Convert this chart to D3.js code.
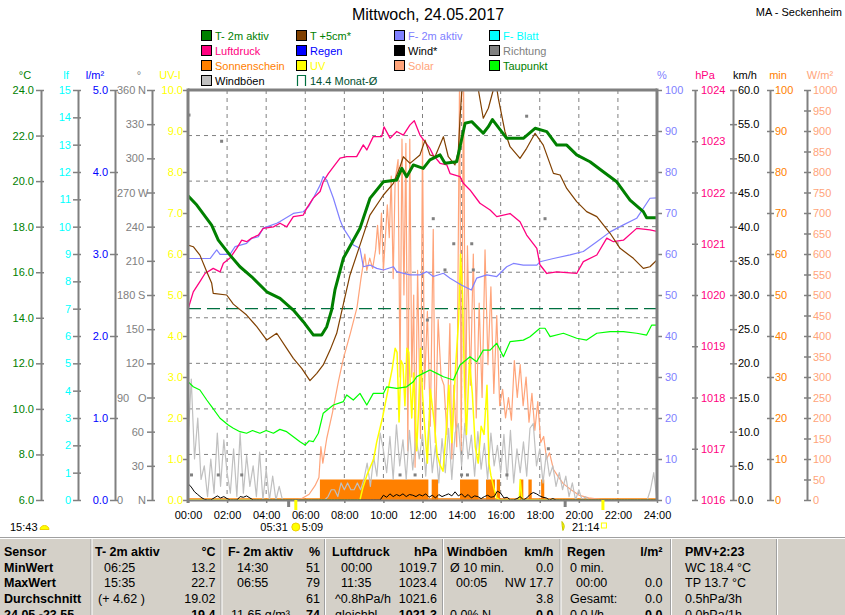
<!DOCTYPE html>
<html>
<head>
<meta charset="utf-8">
<script src="https://cdn.jsdelivr.net/npm/d3@7"></script>
<style>
body { margin: 0; background: #fff; }
svg { display: block; }
</style>
</head>
<body>
<script>
// ---- data (hours, value) ----
var t2m = [[0,19.36],[0.45,18.95],[1.21,18.07],[1.55,17.41],[2.15,16.75],[2.66,16.24],[3.26,15.8],[4.03,15.14],
  [4.71,14.85],[5.39,14.34],[5.9,13.83],[6.42,13.24],[6.84,13.24],[7.1,13.61],[7.35,14.34],[7.52,15.22],[7.95,16.61],
  [8.8,17.93],[9.31,19.24],[10.0,19.97],[10.68,20.05],[10.94,20.56],[11.19,20.19],[11.53,20.71],[12.04,20.56],
  [12.38,20.93],[12.9,21.15],[13.15,20.78],[13.75,20.85],[13.92,21.51],[14.18,22.54],[14.52,22.61],[15.11,22.1],
  [15.37,22.39],[15.58,22.7],[16.31,21.88],[17.16,21.88],[17.76,22.32],[18.36,22.17],[18.87,21.58],[19.38,21.58],
  [19.89,21.15],[20.57,20.85],[21.25,20.41],[21.94,19.97],[22.62,19.17],[23.3,18.66],[23.47,18.39],[24,18.39]];

var t5cm = [[0,17.19],[0.27,17.12],[0.61,16.75],[0.96,16.02],[1.21,15.53],[1.29,15.07],[1.98,15.0],[2.32,14.6],
  [3.0,14.12],[3.52,13.61],[4.03,13.02],[4.54,13.32],[5.05,12.66],[5.39,12.22],[5.82,11.78],[6.24,11.24],
  [6.59,11.56],[6.92,11.93],[7.27,12.58],[7.61,13.32],[7.95,14.6],[8.29,15.88],[8.8,17.19],[9.31,18.51],
  [10.0,19.39],[10.51,19.9],[10.85,20.63],[11.02,21.07],[11.36,20.78],[11.87,21.15],[12.13,21.8],[12.38,21.15],
  [12.64,21.07],[13.07,21.95],[13.32,21.07],[13.66,20.71],[13.83,21.29],[13.92,22.76],[14.01,23.92],[14.33,24.6],
  [14.86,24.0],[15.11,22.76],[15.37,23.2],[15.62,24.0],[15.76,24.3],[15.88,23.63],[16.22,22.17],[16.48,21.51],
  [16.99,21.0],[17.33,21.44],[17.76,22.1],[18.18,21.58],[18.7,20.34],[19.04,20.27],[19.38,19.68],[19.89,19.1],
  [20.4,18.66],[20.92,18.44],[21.6,17.71],[22.11,17.05],[22.79,16.61],[23.3,16.17],[23.64,16.24],[24,16.54]];

var dewPoint = [[0,11.19],[0.27,10.97],[0.61,10.83],[0.96,10.39],[1.21,10.1],[1.64,9.59],[2.06,9.29],[2.32,9.15],
  [2.66,9.0],[3.0,8.93],[3.3,9.05],[3.68,8.93],[4.0,9.05],[4.37,8.93],[4.7,9.1],[5.05,9.0],[5.39,8.78],[5.73,8.56],
  [5.99,8.41],[6.2,8.6],[6.41,8.56],[6.67,8.93],[6.92,9.81],[7.44,10.17],[7.95,10.32],[8.12,10.61],[8.46,10.39],
  [8.8,10.68],[9.15,10.17],[9.48,10.68],[10.0,10.68],[10.17,10.97],[10.68,10.9],[11.19,10.97],[11.53,11.19],
  [11.7,11.41],[12.04,11.56],[12.38,11.71],[12.73,11.56],[13.07,11.41],[13.58,11.27],[13.92,11.93],[14.43,12.29],
  [14.77,12.07],[15.11,12.58],[15.46,12.58],[15.8,12.88],[16.14,12.29],[16.48,12.95],[17.16,13.02],[17.5,13.17],
  [18.01,13.54],[18.27,13.54],[18.53,13.17],[19.21,13.32],[19.89,13.1],[20.4,13.02],[20.92,13.32],[21.6,13.39],
  [22.28,13.39],[22.96,13.32],[23.47,13.24],[23.73,13.68],[24,13.68]];

var humidity = [[0,58.9],[1.13,58.9],[1.47,61.0],[1.64,59.9],[2.15,59.9],[2.41,61.8],[3.0,62.6],[3.26,63.8],
  [3.6,64.2],[3.85,66.3],[4.54,67.5],[4.71,67.9],[5.39,69.9],[5.9,70.3],[6.16,71.5],[6.41,73.6],[6.76,76.8],
  [6.92,78.9],[7.1,78.0],[7.44,73.6],[7.78,68.3],[7.95,66.3],[8.29,63.8],[8.46,62.2],[8.8,61.4],[8.97,56.9],
  [9.31,57.3],[9.66,56.5],[10.0,56.1],[10.51,56.9],[10.68,55.7],[11.36,54.9],[11.87,54.9],[12.22,55.7],
  [12.55,54.5],[13.07,55.3],[13.41,54.1],[14.01,52.4],[14.5,51.2],[14.77,54.1],[15.29,54.9],[15.8,54.5],
  [16.31,56.9],[16.65,57.7],[17.16,57.3],[17.85,57.3],[18.01,58.1],[18.7,58.9],[19.55,59.8],[20.23,60.6],
  [20.92,63.0],[21.6,65.4],[22.28,67.1],[22.96,68.7],[23.64,73.6],[24,73.7]];

var pressure = [[0,1019.72],[0.27,1020.06],[0.61,1020.26],[0.87,1020.42],[1.29,1020.52],[1.64,1020.45],
  [1.81,1020.62],[2.15,1020.72],[2.49,1020.91],[2.75,1021.07],[3.0,1021.04],[3.26,1021.11],[3.6,1021.17],
  [3.85,1021.3],[4.37,1021.33],[4.71,1021.4],[5.05,1021.33],[5.39,1021.53],[5.9,1021.56],[6.07,1021.69],
  [6.41,1021.89],[6.76,1022.02],[6.92,1022.21],[7.18,1022.37],[7.44,1022.5],[7.78,1022.67],[8.12,1022.7],
  [8.63,1022.7],[8.97,1022.93],[9.15,1022.83],[9.48,1023.09],[9.91,1023.09],[10.03,1023.28],[10.34,1023.06],
  [10.68,1023.19],[11.02,1023.12],[11.36,1023.32],[11.58,1023.4],[11.87,1023.12],[12.38,1022.86],[12.55,1022.73],
  [12.9,1022.57],[13.24,1022.54],[13.41,1022.37],[13.92,1022.31],[14.09,1022.18],[14.43,1022.05],[14.94,1021.79],
  [15.46,1021.66],[15.8,1021.53],[16.48,1021.59],[16.99,1021.43],[17.33,1021.17],[17.85,1020.91],[18.01,1020.59],
  [18.36,1020.42],[18.87,1020.45],[19.89,1020.42],[20.23,1020.65],[20.92,1020.78],[21.43,1021.11],[21.77,1021.04],
  [22.28,1021.07],[22.96,1021.3],[23.64,1021.27],[24,1021.24]];

var solar = [[0,0],[5.5,0],[5.8,3],[6.2,14],[6.5,35],[6.7,55],[6.8,130],[6.9,90],[7.1,150],[7.4,215],[7.7,290],
  [7.95,345],[8.3,405],[8.65,470],[8.85,540],[9.05,600],[9.15,560],[9.3,590],[9.45,565],[9.6,610],[9.7,670],
  [9.8,600],[9.9,700],[10.0,560],[10.1,640],[10.2,720],[10.3,640],[10.4,790],[10.5,540],[10.6,780],[10.75,830],
  [10.85,300],[10.95,880],[11.05,500],[11.15,870],[11.25,120],[11.35,880],[11.45,300],[11.55,500],[11.62,80],
  [11.75,560],[11.9,150],[12.0,880],[12.1,270],[12.25,460],[12.4,180],[12.55,660],[12.65,140],[12.8,440],
  [12.95,300],[13.1,280],[13.25,160],[13.4,430],[13.5,100],[13.6,280],[13.75,130],[13.9,1050],[13.98,120],
  [14.1,1050],[14.2,180],[14.3,620],[14.45,280],[14.6,600],[14.75,200],[14.9,480],[15.05,250],[15.2,610],
  [15.35,330],[15.5,520],[15.65,260],[15.8,450],[15.95,230],[16.1,270],[16.25,200],[16.4,250],[16.55,195],
  [16.7,340],[16.85,250],[17.0,330],[17.15,230],[17.3,300],[17.45,190],[17.6,260],[17.75,170],[17.9,240],
  [18.05,140],[18.2,155],[18.35,100],[18.5,115],[18.7,75],[18.9,60],[19.2,40],[19.6,25],[20.0,12],[20.5,5],
  [21.0,2],[21.25,0],[24,0]];

var uvIndex = [[0,0],[8.8,0],[8.95,0.3],[9.15,0.6],[9.5,1.0],[9.65,1.4],[9.95,2.0],[10.2,2.6],[10.45,3.2],
  [10.6,3.7],[10.7,3.6],[10.8,1.9],[10.9,3.4],[11.0,3.3],[11.1,2.3],[11.2,3.7],[11.3,3.6],[11.45,2.0],[11.55,3.1],
  [11.7,1.2],[11.8,2.2],[11.9,3.7],[12.0,2.6],[12.15,1.5],[12.25,0.9],[12.4,2.7],[12.5,2.3],[12.6,1.9],[12.75,1.1],
  [12.9,0.85],[13.05,0.7],[13.2,1.6],[13.35,2.8],[13.5,1.4],[13.7,3.3],[13.85,4.4],[13.95,6.0],[14.05,5.0],
  [14.15,2.8],[14.25,1.6],[14.4,3.4],[14.55,2.6],[14.7,1.3],[14.85,0.9],[15.0,1.8],[15.15,1.6],[15.3,2.8],
  [15.4,0.9],[15.5,0.6],[15.65,0.3],[15.8,0.05],[15.95,0],[16.95,0],[17.0,0.5],[17.1,0],[24,0]];

// gusts and wind, one value every 10 minutes from 00:00 to 24:00 (km/h)
var gust10min = [
  8.5,17.7,6,12,3,5,  0.5,6,1,9.8,2,8.8,  4,1,7.5,0.5,9.8,1,  6.5,2,5,0.5,7,0,  4.5,0,3.5,0,2,0,
  0,0,0,0,0,0,  0,0,0,0,0,0,  0,0.5,1.5,1.5,0.5,2.5,  1.5,2.5,1.5,1.5,2.5,1.5,  3,5.4,2,6.3,3.5,9.8,
  7.3,4,9.3,3,11,5,  8.8,3,10.2,4.4,9.3,6,  9.6,3.5,11.5,4,8,2.5,  9,4,10.5,3,9.8,11.2,  5,11.2,6,9.5,3.5,10,
  4.5,8.3,3,9.8,5,8,  4,9.6,3,10.2,2.5,7.5,  4,8.5,3.5,10.5,11.2,5,  7.5,2.5,6.8,3.5,5,2,  4,1.5,3.5,0.5,2.5,0,
  1.5,0,0.5,0,0,0,  0,0,0,0,0,0,  0,0,0,0,0,0,  0,0,0,0,1.5,4,  0];
var wind10min = [
  2.4,1.9,1.2,0.8,0.4,0.1,  0,0,0.3,0.6,0.3,0.5,  0.2,0,0,0,0.5,0.4,  0.6,0.3,0,0,0,0,  0,0,0,0,0,0,
  0,0,0,0,0,0,  0,0,0,0,0,0,  0,0,0,0,0,0,  0,0,0,0,0,0,  0,0,0,0,0,0,
  0.7,0.4,0.9,0.5,0.8,0.6,  0.9,0.5,0.8,0.7,0.5,0.8,  0.6,0.9,0.4,0.7,0.3,0.8,  0.5,0.7,0.9,0.6,1.2,0.6,  0.9,0.4,0.8,0.3,0.6,0.5,
  0.2,0.5,0.7,0.4,0.5,1.3,  1.0,0.3,0.4,0,0,0.2,  0.5,0,0.3,0.8,1.1,0.9,  0.6,0.4,0.3,0,0.2,0,  0,0,0,0,0,0,
  0,0,0,0,0,0,  0,0,0,0,0,0,  0,0,0,0,0,0,  0,0,0,0,0,0,  0];

// wind direction samples (hour, degrees)
var direction = [[0.05,338],[1.72,315],[0.18,22],[1.55,22],[2.75,22],[10.85,22],[11.62,22],[12.55,247],[13.6,225],
  [14.52,225],[14.6,202],[13.15,202],[12.25,158],[14.0,22],[14.3,22],[16.32,22],[17.33,337],[18.27,247],[18.44,45]];

// sunshine minutes per 5-min interval
var sunStart = [6.75, 12.47, 13.92, 15.25, 15.8, 16.99, 17.42, 18.07];
var sunEnd = [12.3, 12.8, 14.86, 15.71, 15.97, 17.16, 17.59, 18.23];
var sunMinutes = [5, 5, 5, 5, 5, 5, 5, 5];

var monthAvg = 14.4;
var sunTimes = [5.517, 21.233];      // 05:31 / 21:14
var moonTimes = [5.15, 19.3];

// ticks
var hourTicks = d3.range(0, 25, 2);
var tempTicks = [6, 8, 10, 12, 14, 16, 18, 20, 22, 24];
var lfTicks = d3.range(0, 16, 1);
var rainTicks = [0, 1, 2, 3, 4, 5];
var dirTicks = [0, 30, 60, 90, 120, 150, 180, 210, 240, 270, 300, 330, 360];
var dirLetters = ['N', '', '', 'O', '', '', 'S', '', '', 'W', '', '', 'N'];
var uvTicks = [0, 1, 2, 3, 4, 5, 6, 7, 8, 9, 10];
var humTicks = d3.range(0, 101, 10);
var presTicks = [1016, 1017, 1018, 1019, 1020, 1021, 1022, 1023, 1024];
var windTicks = d3.range(0, 61, 5);
var minTicks = d3.range(0, 101, 10);
var solarTicks = d3.range(0, 1001, 50);

// legend
var legendCols = [
  ['T- 2m aktiv', 'Luftdruck', 'Sonnenschein', 'Windböen'],
  ['T +5cm*', 'Regen', 'UV', '14.4 Monat-Ø'],
  ['F- 2m aktiv', 'Wind*', 'Solar'],
  ['F- Blatt', 'Richtung', 'Taupunkt']
];
var legendBoxColors = [
  ['#008000', '#ff0080', '#ff8000', '#c0c0c0'],
  ['#804000', '#0000ff', '#ffff00', null],
  ['#8080ff', '#000000', '#ffa47a'],
  ['#00ffff', '#808080', '#00ff00']
];
var legendTextColors = [
  ['#008000', '#ff0080', '#ff8000', '#000000'],
  ['#008000', '#0000ff', '#ffff00', '#005030'],
  ['#8080ff', '#000000', '#ffa47a'],
  ['#00ffff', '#808080', '#008000']
];

// table
var tableHeader = ['Sensor', 'T- 2m aktiv', '°C', 'F- 2m aktiv', '%', 'Luftdruck', 'hPa', 'Windböen', 'km/h', 'Regen', 'l/m²', 'PMV+2:23'];
var rowLabels = ['MinWert', 'MaxWert', 'Durchschnitt', '24.05.-23.55'];
var tempCells = [['06:25', '13.2'], ['15:35', '22.7'], ['(+ 4.62 )', '19.02'], ['', '19.4']];
var humCells = [['14:30', '51'], ['06:55', '79'], ['', '61'], ['11.65 g/m³', '74']];
var presCells = [['00:00', '1019.7'], ['11:35', '1023.4'], ['^0.8hPa/h', '1021.6'], ['gleichbl.', '1021.3']];
var gustCells = [['Ø 10 min.', '0.0'], ['00:05', 'NW 17.7'], ['', '3.8'], ['0.0% N', '0.0']];
var rainCells = [['0 min.', ''], ['00:00', '0.0'], ['Gesamt:', '0.0'], ['0.0 l/h', '0.0']];
var pmvCells = ['WC 18.4 °C', 'TP 13.7 °C', '0.5hPa/3h', '0.0hPa/1h'];

// ---- layout ----
var width = 845, height = 615;
var plotLeft = 188, plotRight = 657, plotTop = 90, plotBottom = 500;
var font = '"Liberation Sans", Arial, sans-serif';
var gray = '#808080';

var svg = d3.select('body').append('svg')
  .attr('width', width).attr('height', height)
  .attr('font-family', font);
svg.append('rect').attr('width', width).attr('height', height).attr('fill', '#fff');

// scales
var x = d3.scaleLinear().domain([0, 24]).range([plotLeft, plotRight]);
var yTemp = d3.scaleLinear().domain([6, 24]).range([plotBottom, plotTop]);
var yLf = d3.scaleLinear().domain([0, 15]).range([plotBottom, plotTop]);
var yRain = d3.scaleLinear().domain([0, 5]).range([plotBottom, plotTop]);
var yDir = d3.scaleLinear().domain([0, 360]).range([plotBottom, plotTop]);
var yUV = d3.scaleLinear().domain([0, 10]).range([plotBottom, plotTop]);
var yHum = d3.scaleLinear().domain([0, 100]).range([plotBottom, plotTop]);
var yPres = d3.scaleLinear().domain([1016, 1024]).range([plotBottom, plotTop]);
var yWind = d3.scaleLinear().domain([0, 60]).range([plotBottom, plotTop]);
var ySun = d3.scaleLinear().domain([0, 100]).range([plotBottom, plotTop]);
var ySolar = d3.scaleLinear().domain([0, 1000]).range([plotBottom, plotTop]);

// title
svg.append('text').attr('x', 428).attr('y', 20).attr('text-anchor', 'middle')
  .attr('font-size', 16).text('Mittwoch, 24.05.2017');
svg.append('text').attr('x', 842).attr('y', 16).attr('text-anchor', 'end')
  .attr('font-size', 11).text('MA - Seckenheim');

// legend
var legendX = [201, 296, 394, 489];
var legendY = [36, 51, 66, 81];
legendCols.forEach(function(col, c) {
  col.forEach(function(name, r) {
    var g = svg.append('g').attr('transform', 'translate(' + legendX[c] + ',' + legendY[r] + ')');
    var box = legendBoxColors[c][r];
    if (box) {
      g.append('rect').attr('x', 0.5).attr('y', -5.5).attr('width', 10).attr('height', 10)
        .attr('fill', box).attr('stroke', '#000').attr('stroke-width', 1);
    } else {
      g.append('path').attr('d', 'M1.5,5V-5.5H9.5V5').attr('fill', 'none')
        .attr('stroke', '#007040').attr('stroke-width', 1.2);
    }
    g.append('text').attr('x', 14).attr('y', 4).attr('font-size', 11)
      .attr('fill', legendTextColors[c][r]).text(name);
  });
});

// axes
function styleAxis(g, color, tickIn, keepDomain) {
  g.attr('font-family', font).attr('font-size', 11);
  if (keepDomain) g.select('.domain').attr('stroke', gray).attr('stroke-width', 2);
  else g.select('.domain').remove();
  g.selectAll('.tick line').attr('stroke', gray).attr('stroke-width', 1.5).attr('x1', tickIn);
  g.selectAll('.tick text').attr('fill', color);
}

function leftAxis(scale, xPos, ticks, fmt, color, tickLen, pad, tickIn, keepDomain) {
  var g = svg.append('g').attr('transform', 'translate(' + xPos + ',0)')
    .call(d3.axisLeft(scale).tickValues(ticks).tickFormat(fmt)
      .tickSizeInner(tickLen).tickSizeOuter(0).tickPadding(pad));
  styleAxis(g, color, tickIn, keepDomain);
  return g;
}

function rightAxis(scale, xPos, ticks, fmt, color, tickLen, pad, tickIn, keepDomain) {
  var g = svg.append('g').attr('transform', 'translate(' + xPos + ',0)')
    .call(d3.axisRight(scale).tickValues(ticks).tickFormat(fmt)
      .tickSizeInner(tickLen).tickSizeOuter(0).tickPadding(pad));
  styleAxis(g, color, -tickIn, keepDomain);
  return g;
}

var f1 = d3.format('.1f'), f0 = d3.format('d');
leftAxis(yTemp, 41, tempTicks, f1, '#008000', 5, 2, 3, true);
leftAxis(yLf, 78, lfTicks, f0, '#00ffff', 5, 2, 3, true);
leftAxis(yRain, 115, rainTicks, f1, '#0000ff', 5, 2, 3, true);
var dirAxis = leftAxis(yDir, 152, dirTicks, function() { return ''; }, gray, 5, 2, 3, true);
dirAxis.selectAll('.tick').each(function(d, i) {
  var t = d3.select(this);
  t.select('text').remove();
  if (dirLetters[i]) {
    t.append('text').attr('x', -35).attr('dy', '0.32em').attr('text-anchor', 'start').attr('fill', gray).text(d);
    t.append('text').attr('x', -14).attr('dy', '0.32em').attr('text-anchor', 'start').attr('fill', gray).text(dirLetters[i]);
  } else {
    t.append('text').attr('x', -8).attr('dy', '0.32em').attr('text-anchor', 'end').attr('fill', gray).text(d);
  }
});
leftAxis(yUV, plotLeft, uvTicks, f1, '#ffff00', 5, 0, 0, false);

rightAxis(yHum, plotRight, humTicks, f0, '#8080ff', 5, 3, 0, false);
rightAxis(yPres, 695, presTicks, f0, '#ff0080', 3, 3, 3, true);
rightAxis(yWind, 733, windTicks, f1, '#000000', 4, 1, 3, true);
rightAxis(ySun, 770, minTicks, f0, '#ff8000', 4, 1, 3, true);
rightAxis(ySolar, 807, solarTicks, f0, '#ffa47a', 4, 2, 3, true);

// unit labels
var units = [['°C', 25, '#008000'], ['lf', 66, '#00ffff'], ['l/m²', 95, '#0000ff'], ['°', 139, gray],
  ['UV-I', 170, '#ffff00'], ['%', 662, '#8080ff'], ['hPa', 705, '#ff0080'], ['km/h', 745, '#000000'],
  ['min', 778, '#ff8000'], ['W/m²', 820, '#ffa47a']];
units.forEach(function(u) {
  svg.append('text').attr('x', u[1]).attr('y', 79).attr('text-anchor', 'middle')
    .attr('font-size', 11).attr('fill', u[2]).text(u[0]);
});

// plot area
svg.append('clipPath').attr('id', 'plotClip').append('rect')
  .attr('x', plotLeft).attr('y', plotTop).attr('width', plotRight - plotLeft).attr('height', plotBottom - plotTop);
var plot = svg.append('g').attr('clip-path', 'url(#plotClip)');

// grid
plot.selectAll('.vgrid').data(hourTicks.slice(1, -1)).enter().append('line')
  .attr('x1', function(d) { return x(d); }).attr('x2', function(d) { return x(d); })
  .attr('y1', plotTop).attr('y2', plotBottom)
  .attr('stroke', gray).attr('stroke-dasharray', '4,4');
plot.selectAll('.hgrid').data(tempTicks.slice(1, -1)).enter().append('line')
  .attr('x1', plotLeft).attr('x2', plotRight)
  .attr('y1', function(d) { return yTemp(d); }).attr('y2', function(d) { return yTemp(d); })
  .attr('stroke', gray).attr('stroke-dasharray', '4,4');

// monthly average
plot.append('line').attr('x1', plotLeft).attr('x2', plotRight)
  .attr('y1', yTemp(monthAvg)).attr('y2', yTemp(monthAvg))
  .attr('stroke', '#007040').attr('stroke-width', 1.3).attr('stroke-dasharray', '13,6');

// sunshine bars
plot.selectAll('.sun').data(sunStart).enter().append('rect')
  .attr('x', function(d) { return x(d); })
  .attr('width', function(d, i) { return x(sunEnd[i]) - x(d); })
  .attr('y', function(d, i) { return ySun(sunMinutes[i]); })
  .attr('height', function(d, i) { return ySun(0) - ySun(sunMinutes[i]); })
  .attr('fill', '#ff8000');
plot.append('line').attr('x1', x(0)).attr('x2', x(24)).attr('y1', ySun(0) - 1).attr('y2', ySun(0) - 1)
  .attr('stroke', '#ff8000').attr('stroke-width', 1.5);

function drawLine(data, yScale, color, w) {
  plot.append('path').datum(data)
    .attr('d', d3.line().x(function(d) { return x(d[0]); }).y(function(d) { return yScale(d[1]); }))
    .attr('fill', 'none').attr('stroke', color).attr('stroke-width', w).attr('stroke-linejoin', 'round');
}
function tenMinutes(vals) {
  return vals.map(function(v, i) { return [i / 6, v]; });
}

drawLine(solar, ySolar, '#ffa47a', 1.2);
drawLine(tenMinutes(gust10min), yWind, '#c0c0c0', 1.2);
drawLine(uvIndex, yUV, '#ffff00', 1.5);
drawLine(tenMinutes(wind10min), yWind, '#000000', 1);

plot.selectAll('.dir').data(direction).enter().append('rect')
  .attr('x', function(d) { return x(d[0]) - 1.5; })
  .attr('y', function(d) { return yDir(d[1]) - 1.5; })
  .attr('width', 3).attr('height', 3).attr('fill', gray);

drawLine(dewPoint, yTemp, '#00ff00', 1.2);
drawLine(humidity, yHum, '#8080ff', 1.2);
drawLine(pressure, yPres, '#ff0080', 1.3);
drawLine(t5cm, yTemp, '#804000', 1.2);
drawLine(t2m, yTemp, '#008000', 3);

// frame
svg.append('line').attr('x1', plotLeft).attr('x2', plotRight).attr('y1', plotTop).attr('y2', plotTop)
  .attr('stroke', gray).attr('stroke-width', 3);
svg.append('line').attr('x1', plotLeft).attr('x2', plotLeft).attr('y1', plotTop - 1.5).attr('y2', plotBottom + 3)
  .attr('stroke', gray).attr('stroke-width', 3);
svg.append('line').attr('x1', plotRight).attr('x2', plotRight).attr('y1', plotTop - 1.5).attr('y2', plotBottom)
  .attr('stroke', gray).attr('stroke-width', 3);

// x axis
var xg = svg.append('g').attr('transform', 'translate(0,' + plotBottom + ')')
  .call(d3.axisBottom(x).tickValues(hourTicks)
    .tickFormat(function(h) { return d3.format('02')(h) + ':00'; })
    .tickSizeInner(3).tickSizeOuter(0).tickPadding(8));
xg.attr('font-family', font).attr('font-size', 11);
xg.select('.domain').attr('stroke', gray).attr('stroke-width', 2);
xg.selectAll('.tick line').attr('stroke', gray).attr('stroke-width', 1.5);
xg.selectAll('.tick text').attr('fill', '#000');

svg.selectAll('.moonTick').data(moonTimes).enter().append('rect')
  .attr('x', function(d) { return x(d) - 1.5; }).attr('y', plotBottom).attr('width', 3).attr('height', 7)
  .attr('fill', gray);
svg.selectAll('.sunTick').data(sunTimes).enter().append('rect')
  .attr('x', function(d) { return x(d) - 1.5; }).attr('y', plotBottom).attr('width', 3).attr('height', 10)
  .attr('fill', '#ffff00');

// sunrise / sunset info
var infoY = 530.5;
svg.append('text').attr('x', x(sunTimes[0]) - 8).attr('y', infoY).attr('text-anchor', 'end')
  .attr('font-size', 11).text('05:31');
svg.append('circle').attr('cx', x(sunTimes[0])).attr('cy', infoY - 3.5).attr('r', 4).attr('fill', '#ffff00')
  .attr('stroke', '#f0d000');
svg.append('text').attr('x', x(sunTimes[0]) + 6).attr('y', infoY).attr('font-size', 11).text('5:09');
svg.append('path').attr('d', 'M' + (x(sunTimes[1]) - 41) + ',' + (infoY - 9) + ' q4,4 1,9 q-1,-5 -1,-9z')
  .attr('fill', '#ffff00').attr('stroke', '#c8c800');
svg.append('text').attr('x', x(sunTimes[1]) - 31).attr('y', infoY).attr('font-size', 11).text('21:14');
svg.append('rect').attr('x', x(sunTimes[1]) - 1.5).attr('y', infoY - 7.5).attr('width', 5).attr('height', 5)
  .attr('fill', 'none').attr('stroke', '#ffff00');
svg.append('text').attr('x', 10).attr('y', infoY).attr('font-size', 11).text('15:43');
svg.append('path').attr('d', 'M40,' + (infoY - 1) + ' a4.5,4 0 0 1 9,0 z').attr('fill', '#ffff00').attr('stroke', '#f0d000');

// ---- table ----
var tableTop = 537;
svg.append('rect').attr('x', 0).attr('y', tableTop).attr('width', width).attr('height', height - tableTop)
  .attr('fill', '#d4d0c8');
svg.append('line').attr('x1', 0).attr('x2', width).attr('y1', tableTop + 0.5).attr('y2', tableTop + 0.5)
  .attr('stroke', '#a0a0a0');
svg.append('line').attr('x1', 0).attr('x2', width).attr('y1', tableTop + 1.5).attr('y2', tableTop + 1.5)
  .attr('stroke', '#ffffff');

var dividers = [91, 221, 324.5, 442.5, 560, 670.5, 776.5];
dividers.forEach(function(dx) {
  svg.append('line').attr('x1', dx).attr('x2', dx).attr('y1', tableTop + 2).attr('y2', height)
    .attr('stroke', '#a0a0a0');
  svg.append('line').attr('x1', dx + 1).attr('x2', dx + 1).attr('y1', tableTop + 2).attr('y2', height)
    .attr('stroke', '#ffffff');
});

var colLeft = [95, 228, 332, 447, 567];
var colRight = [215.5, 320, 437, 553.5, 662.5];
var rowY = [556, 571.5, 587, 603, 618.5];
var groups = [tempCells, humCells, presCells, gustCells, rainCells];

function cell(xp, yp, txt, anchor, bold) {
  svg.append('text').attr('x', xp).attr('y', yp).attr('text-anchor', anchor || 'start')
    .attr('font-size', 12.5).attr('font-weight', bold ? 'bold' : 'normal').attr('fill', '#000').text(txt);
}

cell(4, rowY[0], tableHeader[0], 'start', true);
groups.forEach(function(g, i) {
  cell(colLeft[i], rowY[0], tableHeader[1 + i * 2], 'start', true);
  cell(colRight[i], rowY[0], tableHeader[2 + i * 2], 'end', true);
});
cell(685, rowY[0], tableHeader[11], 'start', true);

rowLabels.forEach(function(label, r) {
  var last = r === rowLabels.length - 1;
  cell(4, rowY[r + 1], label, 'start', true);
  groups.forEach(function(g, i) {
    var left = g[r][0];
    var indent = /^\d\d:\d\d$/.test(left) ? 9 : 3;
    cell(colLeft[i] + indent, rowY[r + 1], left, 'start', false);
    cell(colRight[i], rowY[r + 1], g[r][1], 'end', last);
  });
  cell(685, rowY[r + 1], pmvCells[r], 'start', false);
});
</script>
</body>
</html>
